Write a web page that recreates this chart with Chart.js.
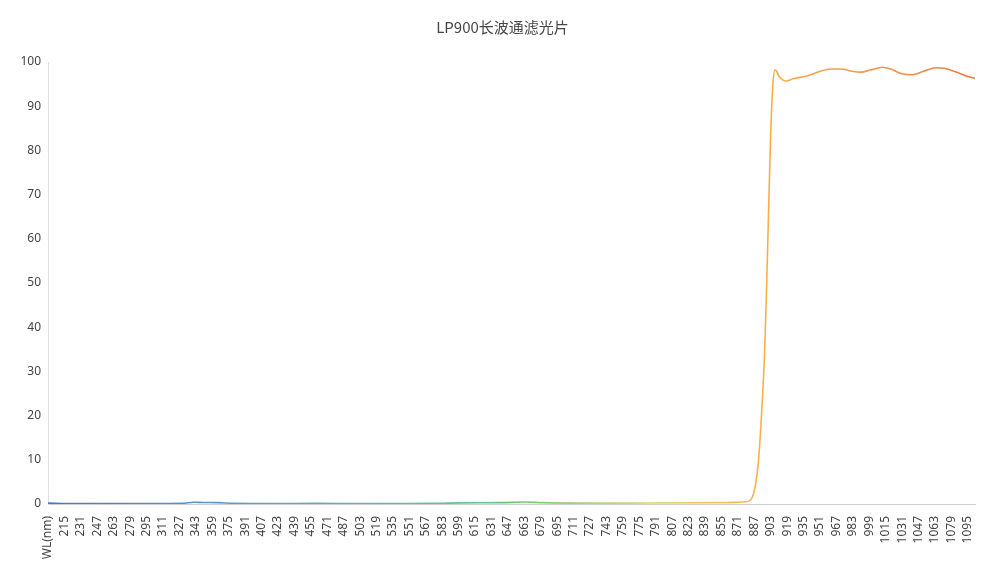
<!DOCTYPE html>
<html>
<head>
<meta charset="utf-8">
<script src="https://cdn.jsdelivr.net/npm/chart.js@4/dist/chart.umd.min.js"></script>
<style>
  html, body { margin: 0; padding: 0; background: #fff; }
  #wrap { width: 1005px; height: 569px; position: relative; }
</style>
</head>
<body>
<div id="wrap"><canvas id="c"></canvas></div>
<script>
const chartTitle = "LP900长波通滤光片";

// Wavelength (nm) and transmittance (%)
const wavelengths = [199, 220, 260, 300, 330, 341, 350, 365, 380, 420, 460, 500, 540, 580, 600, 640, 665, 680, 720, 760, 800, 840, 860, 872, 878, 882, 885, 887, 889, 891, 893, 895, 897, 899, 901, 903, 905, 907, 908.5, 911, 915, 918, 925, 939, 950, 962, 972, 982, 991, 1000, 1012, 1020, 1030, 1040, 1052, 1064, 1072, 1085, 1095, 1102];
const transmittance = [0.2, 0.1, 0.1, 0.1, 0.15, 0.4, 0.35, 0.3, 0.15, 0.1, 0.15, 0.1, 0.1, 0.15, 0.25, 0.3, 0.45, 0.3, 0.2, 0.2, 0.25, 0.3, 0.35, 0.4, 0.5, 0.7, 1.5, 3, 5.5, 9.5, 16, 24, 34, 49, 67, 84, 94.5, 98.2, 98.0, 96.8, 95.9, 95.7, 96.2, 96.9, 97.8, 98.4, 98.4, 97.9, 97.7, 98.2, 98.8, 98.4, 97.4, 97.1, 97.9, 98.7, 98.6, 97.6, 96.7, 96.3];

// X tick positions and their labels (first category is the header "WL(nm)")
const tickPositions = [199, 215, 231, 247, 263, 279, 295, 311, 327, 343, 359, 375, 391, 407, 423, 439, 455, 471, 487, 503, 519, 535, 551, 567, 583, 599, 615, 631, 647, 663, 679, 695, 711, 727, 743, 759, 775, 791, 807, 823, 839, 855, 871, 887, 903, 919, 935, 951, 967, 983, 999, 1015, 1031, 1047, 1063, 1079, 1095];
const tickLabels = ["WL(nm)", "215", "231", "247", "263", "279", "295", "311", "327", "343", "359", "375", "391", "407", "423", "439", "455", "471", "487", "503", "519", "535", "551", "567", "583", "599", "615", "631", "647", "663", "679", "695", "711", "727", "743", "759", "775", "791", "807", "823", "839", "855", "871", "887", "903", "919", "935", "951", "967", "983", "999", "1015", "1031", "1047", "1063", "1079", "1095"];

const yTicks = [0, 10, 20, 30, 40, 50, 60, 70, 80, 90, 100];

const gradientStops = [
  [0.00, '#4a74d4'],
  [0.20, '#5a9ccc'],
  [0.38, '#58c0a8'],
  [0.50, '#6cc47c'],
  [0.60, '#b8d878'],
  [0.68, '#ecd070'],
  [0.78, '#f7ae45'],
  [0.90, '#f59545'],
  [1.00, '#f07a48']
];

const points = wavelengths.map((w, i) => ({ x: w, y: transmittance[i] }));

let cachedGrad = null, cachedKey = '';
function lineGradient(context) {
  const chart = context.chart;
  const area = chart.chartArea;
  if (!area) return '#f5a040';
  const key = area.left + ',' + area.right;
  if (cachedGrad && cachedKey === key) return cachedGrad;
  const g = chart.ctx.createLinearGradient(area.left, 0, area.right, 0);
  gradientStops.forEach(s => g.addColorStop(s[0], s[1]));
  cachedGrad = g; cachedKey = key;
  return g;
}

// Title centred on the whole canvas (as in the reference)
const centeredTitle = {
  id: 'centeredTitle',
  afterDraw(chart) {
    const c = chart.ctx;
    c.save();
    c.font = "15px 'Noto Sans CJK SC', sans-serif";
    c.fillStyle = '#464646';
    c.textAlign = 'center';
    c.textBaseline = 'middle';
    c.fillText(chartTitle, chart.width / 2, 27);
    c.restore();
  }
};

const labelFont = { family: "'Noto Sans', 'DejaVu Sans', sans-serif", size: 12 };

new Chart(document.getElementById('c'), {
  type: 'line',
  data: {
    datasets: [{
      data: points,
      borderColor: lineGradient,
      borderWidth: 1.6,
      pointRadius: 0,
      fill: false,
      cubicInterpolationMode: 'monotone'
    }]
  },
  plugins: [centeredTitle],
  options: {
    responsive: true,
    maintainAspectRatio: false,
    animation: false,
    layout: { padding: { left: 0, right: 30, top: 62, bottom: 0 } },
    plugins: {
      legend: { display: false },
      tooltip: { enabled: false },
      title: { display: false }
    },
    scales: {
      x: {
        type: 'linear',
        min: 199,
        max: 1102,
        grid: { display: false },
        border: { display: true, color: '#cfcfcf', width: 1 },
        afterBuildTicks: (scale) => {
          scale.ticks = tickPositions.map(v => ({ value: v }));
        },
        ticks: {
          autoSkip: false,
          minRotation: 90,
          maxRotation: 90,
          padding: 4,
          color: '#444',
          font: labelFont,
          callback: (value) => {
            const i = tickPositions.indexOf(value);
            return i >= 0 ? tickLabels[i] : '';
          }
        },
        afterFit: (scale) => { scale.height = 65; }
      },
      y: {
        min: 0,
        max: 100,
        grid: { display: false, drawTicks: false },
        border: { display: true, color: '#e0e0e0', width: 1 },
        afterBuildTicks: (scale) => {
          scale.ticks = yTicks.map(v => ({ value: v }));
        },
        ticks: {
          padding: 7,
          color: '#444',
          font: labelFont
        },
        afterFit: (scale) => { scale.width = 48; }
      }
    }
  }
});
</script>
</body>
</html>
